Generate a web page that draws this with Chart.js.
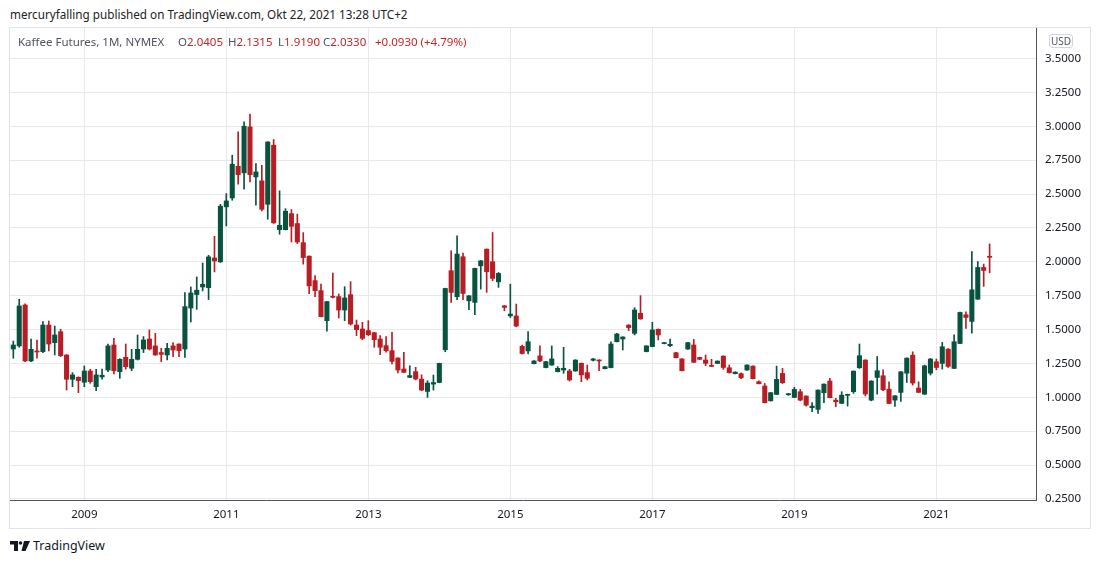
<!DOCTYPE html>
<html>
<head>
<meta charset="utf-8">
<script src="https://cdn.jsdelivr.net/npm/chart.js@4.4.1/dist/chart.umd.min.js"></script>
<style>
  body { margin: 0; background: #fff; font-family: "Noto Sans", sans-serif; }
  #page { position: relative; width: 1100px; height: 564px; overflow: hidden; background: #fff; }
  #byline { position: absolute; left: 10px; top: 6px; font-size: 11.7px; color: #222; white-space: nowrap; }
  #frame { position: absolute; left: 9px; top: 27px; width: 1082px; height: 502px; box-sizing: border-box; border: 1px solid #e0e3eb; }
  #box { position: absolute; left: 10px; top: 28px; width: 1080px; height: 500px; }
  .lg { position: absolute; top: 34px; font-size: 11.5px; white-space: nowrap; }
  .gray { color: #50535e; }
  .red { color: #c4262c; }
  #usd { position: absolute; left: 1049px; top: 34px; width: 24px; height: 14px; box-sizing: border-box; border: 1px solid #d1d4dc; border-radius: 3px; font-size: 10px; color: #50535e; text-align: center; line-height: 12px; background: #fff; }
  #brand { position: absolute; left: 33px; top: 537px; font-size: 12.5px; color: #131722; white-space: nowrap; }
  #logo { position: absolute; left: 10px; top: 541px; }
</style>
</head>
<body>
<div id="page">
  <div id="byline">mercuryfalling published on TradingView.com, Okt 22, 2021 13:28 UTC+2</div>
  <div id="frame"></div>
  <div id="box"><canvas id="chart" width="1080" height="500"></canvas></div>
  <div class="lg gray" style="left:18px">Kaffee Futures, 1M, NYMEX</div>
  <div class="lg" style="left:178px"><span class="gray">O</span><span class="red">2.0405</span></div>
  <div class="lg" style="left:228px"><span class="gray">H</span><span class="red">2.1315</span></div>
  <div class="lg" style="left:278px"><span class="gray">L</span><span class="red">1.9190</span></div>
  <div class="lg" style="left:323px"><span class="gray">C</span><span class="red">2.0330</span></div>
  <div class="lg red" style="left:375px">+0.0930 (+4.79%)</div>
  <div id="usd">USD</div>
  <svg id="logo" width="21" height="11" viewBox="0 0 21 11">
    <path d="M0 0H8V10H4V3.5H0Z" fill="#131722"/>
    <circle cx="10.5" cy="2" r="1.8" fill="#131722"/>
    <path d="M14 0H20L15.5 10H11.5Z" fill="#131722"/>
  </svg>
  <div id="brand">TradingView</div>
</div>
<script>
// monthly candles, Jan 2008 .. Oct 2021
const firstYear = 2008;
const yearLabels = ['2009', '2011', '2013', '2015', '2017', '2019', '2021'];
const priceTicks = [0.25, 0.5, 0.75, 1.0, 1.25, 1.5, 1.75, 2.0, 2.25, 2.5, 2.75, 3.0, 3.25, 3.5];

const opens = [
  1.356, 1.379, 1.681, 1.268, 1.342, 1.337, 1.533, 1.403, 1.484, 1.312, 1.133, 1.148,
  1.111, 1.194, 1.078, 1.150, 1.201, 1.386, 1.189, 1.295, 1.214, 1.280, 1.356, 1.430,
  1.379, 1.330, 1.312, 1.379, 1.393, 1.356, 1.659, 1.758, 1.814, 1.809, 2.028, 1.999,
  2.405, 2.471, 2.705, 2.656, 2.995, 2.626, 2.597, 2.424, 2.860, 2.237, 2.237, 2.355,
  2.282, 2.141, 2.041, 1.861, 1.787, 1.565, 1.745, 1.743, 1.644, 1.757, 1.533, 1.504,
  1.492, 1.477, 1.430, 1.381, 1.344, 1.290, 1.209, 1.147, 1.189, 1.134, 1.043, 1.097,
  1.109, 1.351, 1.934, 1.742, 2.037, 1.712, 1.700, 1.970, 2.093, 2.000, 1.852, 1.675,
  1.601, 1.600, 1.376, 1.342, 1.248, 1.305, 1.219, 1.238, 1.189, 1.201, 1.194, 1.194,
  1.251, 1.182, 1.273, 1.275, 1.211, 1.219, 1.410, 1.430, 1.533, 1.472, 1.620, 1.337,
  1.374, 1.502, 1.396, 1.381, 1.329, 1.283, 1.356, 1.386, 1.294, 1.275, 1.233, 1.250,
  1.304, 1.218, 1.174, 1.174, 1.201, 1.230, 1.115, 1.083, 0.974, 1.021, 1.176, 1.019,
  0.999, 1.041, 1.009, 0.923, 0.911, 1.034, 1.120, 0.979, 0.955, 1.014, 1.041, 1.218,
  1.275, 0.979, 1.146, 1.159, 1.060, 0.979, 1.036, 1.178, 1.311, 1.068, 1.023, 1.178,
  1.262, 1.250, 1.355, 1.213, 1.397, 1.609, 1.560, 1.724, 1.958, 2.0405
];
const highs = [
  1.415, 1.723, 1.689, 1.430, 1.423, 1.558, 1.563, 1.526, 1.502, 1.315, 1.182, 1.150,
  1.231, 1.207, 1.207, 1.209, 1.393, 1.435, 1.285, 1.393, 1.354, 1.460, 1.448, 1.497,
  1.472, 1.361, 1.398, 1.403, 1.395, 1.772, 1.814, 1.888, 1.991, 2.048, 2.188, 2.424,
  2.503, 2.786, 2.958, 3.032, 3.089, 2.724, 2.712, 2.886, 2.902, 2.523, 2.392, 2.385,
  2.351, 2.215, 2.043, 1.898, 1.836, 1.708, 1.917, 1.762, 1.816, 1.853, 1.570, 1.553,
  1.565, 1.479, 1.455, 1.447, 1.479, 1.292, 1.332, 1.233, 1.221, 1.166, 1.122, 1.164,
  1.252, 1.805, 2.081, 2.192, 2.064, 1.751, 1.953, 2.009, 2.095, 2.216, 1.921, 1.677,
  1.835, 1.688, 1.385, 1.484, 1.270, 1.379, 1.265, 1.379, 1.226, 1.369, 1.206, 1.277,
  1.253, 1.238, 1.287, 1.277, 1.228, 1.410, 1.472, 1.447, 1.535, 1.661, 1.750, 1.381,
  1.553, 1.504, 1.405, 1.430, 1.331, 1.285, 1.405, 1.427, 1.296, 1.312, 1.280, 1.269,
  1.306, 1.238, 1.188, 1.181, 1.240, 1.232, 1.122, 1.102, 1.036, 1.230, 1.213, 1.029,
  1.073, 1.058, 1.011, 0.960, 1.055, 1.099, 1.139, 0.992, 1.041, 1.023, 1.195, 1.393,
  1.277, 1.122, 1.301, 1.203, 1.114, 1.013, 1.190, 1.291, 1.336, 1.114, 1.237, 1.287,
  1.282, 1.405, 1.360, 1.461, 1.628, 1.631, 2.076, 2.002, 1.983, 2.1315
];
const lows = [
  1.288, 1.369, 1.263, 1.263, 1.288, 1.330, 1.342, 1.312, 1.300, 1.054, 1.078, 1.034,
  1.078, 1.103, 1.049, 1.133, 1.189, 1.172, 1.140, 1.207, 1.196, 1.275, 1.330, 1.349,
  1.310, 1.263, 1.275, 1.300, 1.300, 1.295, 1.556, 1.649, 1.785, 1.721, 1.925, 1.995,
  2.264, 2.454, 2.572, 2.535, 2.589, 2.417, 2.375, 2.314, 2.283, 2.203, 2.235, 2.146,
  2.134, 1.982, 1.765, 1.743, 1.593, 1.487, 1.733, 1.585, 1.565, 1.533, 1.455, 1.425,
  1.455, 1.369, 1.315, 1.332, 1.246, 1.179, 1.182, 1.145, 1.128, 1.048, 0.999, 1.053,
  1.107, 1.336, 1.700, 1.720, 1.720, 1.646, 1.609, 1.798, 1.774, 1.860, 1.811, 1.638,
  1.589, 1.520, 1.319, 1.320, 1.246, 1.263, 1.217, 1.236, 1.187, 1.177, 1.120, 1.192,
  1.115, 1.128, 1.268, 1.196, 1.209, 1.217, 1.408, 1.349, 1.492, 1.460, 1.576, 1.335,
  1.372, 1.423, 1.394, 1.374, 1.290, 1.194, 1.354, 1.256, 1.278, 1.233, 1.226, 1.248,
  1.206, 1.179, 1.172, 1.137, 1.199, 1.135, 1.098, 0.958, 0.972, 1.019, 1.102, 1.014,
  0.997, 0.974, 0.935, 0.893, 0.881, 0.960, 0.995, 0.930, 0.953, 0.935, 1.029, 1.213,
  1.009, 0.974, 1.023, 1.048, 0.952, 0.932, 0.969, 1.109, 1.090, 1.034, 1.021, 1.164,
  1.203, 1.208, 1.220, 1.211, 1.395, 1.508, 1.474, 1.722, 1.818, 1.919
];
const closes = [
  1.386, 1.674, 1.268, 1.354, 1.334, 1.533, 1.393, 1.460, 1.307, 1.133, 1.165, 1.123,
  1.194, 1.115, 1.165, 1.163, 1.379, 1.196, 1.280, 1.226, 1.280, 1.354, 1.423, 1.356,
  1.312, 1.317, 1.361, 1.349, 1.344, 1.669, 1.770, 1.790, 1.834, 2.036, 2.006, 2.410,
  2.449, 2.720, 2.643, 3.000, 2.643, 2.663, 2.387, 2.884, 2.287, 2.269, 2.373, 2.262,
  2.146, 2.031, 1.822, 1.787, 1.595, 1.706, 1.738, 1.644, 1.733, 1.541, 1.499, 1.435,
  1.462, 1.425, 1.369, 1.344, 1.265, 1.201, 1.184, 1.160, 1.135, 1.053, 1.105, 1.109,
  1.250, 1.803, 1.774, 2.057, 1.766, 1.749, 1.951, 2.007, 1.926, 1.877, 1.914, 1.663,
  1.614, 1.525, 1.323, 1.410, 1.268, 1.268, 1.263, 1.283, 1.214, 1.214, 1.128, 1.275,
  1.165, 1.140, 1.283, 1.268, 1.226, 1.393, 1.467, 1.445, 1.514, 1.644, 1.578, 1.379,
  1.497, 1.460, 1.403, 1.391, 1.292, 1.196, 1.403, 1.258, 1.280, 1.250, 1.228, 1.267,
  1.220, 1.181, 1.186, 1.144, 1.238, 1.137, 1.100, 0.960, 1.034, 1.132, 1.107, 1.024,
  1.058, 0.979, 0.942, 0.935, 1.053, 1.097, 0.997, 0.967, 1.016, 1.021, 1.193, 1.307,
  1.024, 1.120, 1.196, 1.055, 0.954, 1.011, 1.188, 1.289, 1.105, 1.036, 1.232, 1.282,
  1.220, 1.373, 1.228, 1.410, 1.626, 1.589, 1.793, 1.958, 1.936, 2.033
];

const UP = '#07533f';
const DOWN = '#b81d24';
const GRID = '#e9e9ea';
const AXIS = '#50535e';

const bodyData = opens.map((o, i) => ({ x: i, y: [o, closes[i]] }));
const wickData = highs.map((h, i) => ({ x: i, y: [lows[i], h] }));

function candleColor(ctx) {
    const i = ctx.dataIndex;
    return closes[i] >= opens[i] ? UP : DOWN;
}

// kill the half-label padding chart.js adds around axes
function noPad(scale) {
    scale.paddingTop = 0;
    scale.paddingBottom = 0;
    scale.paddingLeft = 0;
    scale.paddingRight = 0;
}

const ctx = document.getElementById('chart').getContext('2d');
new Chart(ctx, {
    type: 'bar',
    data: {
        datasets: [
            {
                label: 'body',
                data: bodyData,
                backgroundColor: candleColor,
                barThickness: 4.4,
                minBarLength: 1,
                grouped: false,
                borderWidth: 0
            },
            {
                label: 'wick',
                data: wickData,
                backgroundColor: candleColor,
                barThickness: 1,
                minBarLength: 1,
                grouped: false,
                borderWidth: 0
            }
        ]
    },
    options: {
        responsive: false,
        maintainAspectRatio: false,
        animation: false,
        layout: { padding: 0 },
        plugins: {
            legend: { display: false },
            tooltip: { enabled: false }
        },
        scales: {
            x: {
                type: 'linear',
                min: -0.56,
                max: 172.84,
                offset: false,
                grid: { offset: false, color: GRID, drawTicks: false },
                border: { display: true, color: AXIS, width: 1 },
                afterBuildTicks: scale => {
                    scale.ticks = yearLabels.map(y => ({ value: (Number(y) - firstYear) * 12 }));
                },
                afterFit: scale => { scale.height = 28; noPad(scale); },
                ticks: {
                    autoSkip: false,
                    maxRotation: 0,
                    padding: 8,
                    color: '#131722',
                    font: { family: '"Noto Sans", sans-serif', size: 11.5 },
                    callback: value => String(firstYear + value / 12)
                }
            },
            y: {
                position: 'right',
                min: 0.242,
                max: 3.725,
                beginAtZero: false,
                grid: { color: GRID, drawTicks: false },
                border: { display: true, color: AXIS, width: 1 },
                afterBuildTicks: scale => {
                    scale.ticks = priceTicks.map(v => ({ value: v }));
                },
                afterFit: scale => { scale.width = 54; noPad(scale); },
                ticks: {
                    padding: 9,
                    color: '#131722',
                    font: { family: '"Noto Sans", sans-serif', size: 11.5 },
                    callback: value => value.toFixed(4)
                }
            }
        }
    }
});
</script>
</body>
</html>
